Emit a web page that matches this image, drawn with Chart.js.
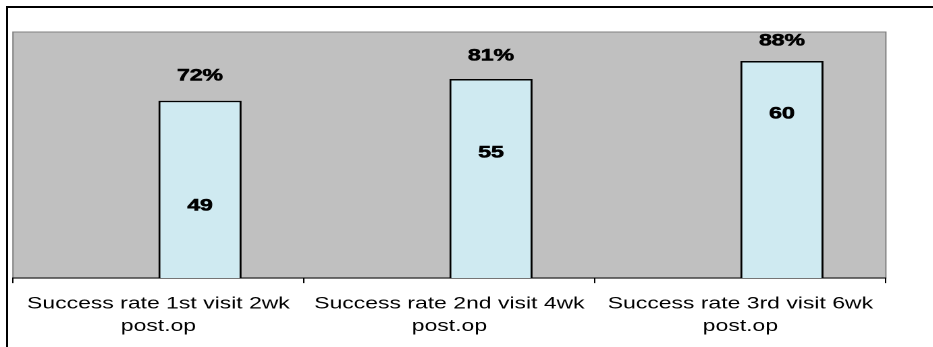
<!DOCTYPE html>
<html>
<head>
<meta charset="utf-8">
<script src="https://cdn.jsdelivr.net/npm/chart.js@4.4.0/dist/chart.umd.min.js"></script>
<style>
  html, body { margin: 0; padding: 0; background: #fff; overflow: hidden; }
  #marco { position: absolute; left: 6px; top: 6px; width: 960px; height: 380px;
           border-left: 2px solid #000; border-top: 2px solid #000; }
  #lienzo { position: absolute; left: 0; top: 0; width: 691px; height: 347px;
            transform: scaleX(1.35); transform-origin: 0 0; }
</style>
</head>
<body>
<div id="lienzo"><canvas id="exitoStat" width="691" height="347"></canvas></div>
<div id="marco"></div>
<script>
const categorias = [
  ["Success rate 1st visit 2wk", "post.op"],
  ["Success rate 2nd visit 4wk", "post.op"],
  ["Success rate 3rd visit 6wk", "post.op"]
];
const pacientes = [49, 55, 60];
const porcentajes = ["72%", "81%", "88%"];
const totalPacientes = 68;

// separación de las etiquetas respecto al borde superior de cada barra (px)
const alturaPct = [25, 23, 20];
const profundidadN = [105, 74, 53];

const fuente = '"Liberation Sans", Arial, sans-serif';

const fondoPlot = {
  id: 'fondoPlot',
  beforeDraw(chart) {
    const { ctx, chartArea: a } = chart;
    ctx.save();
    ctx.fillStyle = '#c0c0c0';
    ctx.fillRect(a.left, a.top, a.right - a.left, a.bottom - a.top);
    ctx.strokeStyle = '#808080';
    ctx.lineWidth = 1;
    ctx.strokeRect(a.left, a.top, a.right - a.left, a.bottom - a.top);
    ctx.restore();
  }
};

const etiquetas = {
  id: 'etiquetas',
  afterDatasetsDraw(chart) {
    const ctx = chart.ctx;
    const meta = chart.getDatasetMeta(1);
    ctx.save();
    ctx.font = 'bold 17px ' + fuente;
    ctx.fillStyle = '#000';
    ctx.strokeStyle = '#000';
    ctx.lineWidth = 0.6;
    ctx.textAlign = 'center';
    ctx.textBaseline = 'middle';
    meta.data.forEach(function (barra, i) {
      const yPct = barra.y - alturaPct[i];
      const yN = barra.y + profundidadN[i];
      ctx.fillText(porcentajes[i], barra.x, yPct);
      ctx.strokeText(porcentajes[i], barra.x, yPct);
      ctx.fillText(String(pacientes[i]), barra.x, yN);
      ctx.strokeText(String(pacientes[i]), barra.x, yN);
    });
    ctx.restore();
  }
};

new Chart(document.getElementById('exitoStat'), {
  type: 'bar',
  data: {
    labels: categorias,
    datasets: [{
      label: 'hueco',
      data: categorias.map(function () { return null; })
    }, {
      label: 'Pacientes',
      data: pacientes,
      backgroundColor: '#cfeaf1',
      borderColor: '#000',
      borderWidth: 1.5,
      borderSkipped: 'bottom'
    }]
  },
  options: {
    responsive: false,
    animation: false,
    devicePixelRatio: 2,
    categoryPercentage: 1 / 1.75,
    barPercentage: 1,
    layout: { padding: { left: 9.6, right: 34.8, top: 32, bottom: 0 } },
    plugins: { legend: { display: false }, tooltip: { enabled: false } },
    scales: {
      x: {
        grid: { drawOnChartArea: false, drawTicks: true, tickLength: 5, color: '#000' },
        border: { display: true, color: '#000', width: 1 },
        ticks: {
          color: '#000',
          font: { family: fuente, size: 17, lineHeight: 1.35 },
          padding: 9,
          autoSkip: false,
          maxRotation: 0
        }
      },
      y: { display: false, min: 0, max: totalPacientes }
    }
  },
  plugins: [fondoPlot, etiquetas]
});
</script>
</body>
</html>
